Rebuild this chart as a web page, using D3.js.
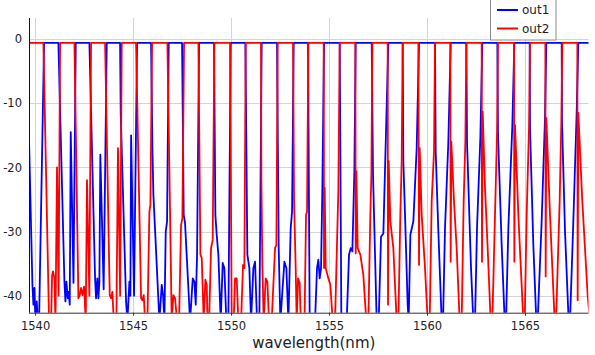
<!DOCTYPE html>
<html><head><meta charset="utf-8">
<script src="https://cdn.jsdelivr.net/npm/d3@7"></script>
<style>html,body{margin:0;padding:0;background:#fff}svg{display:block}</style>
</head><body>
<svg id="c" width="595" height="355"></svg>
<script>
const xTicks = [1540, 1545, 1550, 1555, 1560, 1565];
const yTicks = [0, -10, -20, -30, -40];
const seriesNames = ["out1", "out2"];
const seriesColors = ["#0000ff", "#ff0000"];

// out1 (blue): [wavelength nm, dB]
const out1 = [
[1539.58,-0.6],[1539.69,-15.5],[1539.864,-38.3],[1539.915,-41.4],[1539.966,-38.8],[1540.017,-44],[1540.085,-40.9],[1540.136,-44],[1540.204,-44],[1540.459,-0.6],
[1541.191,-0.6],[1541.497,-37.8],[1541.548,-40.9],[1541.599,-37.8],[1541.667,-40.4],[1541.718,-39.4],[1541.769,-41.4],[1541.82,-14.5],[1541.96,-38],[1542.075,-0.6],
[1542.772,-0.6],[1543.061,-37.3],[1543.112,-40.4],[1543.180,-37.3],[1543.231,-40.4],[1543.282,-37.8],[1543.33,-18],[1543.50,-39],[1543.657,-0.6],
[1544.337,-0.6],[1544.371,-11.8],[1544.643,-40.9],[1544.711,-44],[1544.813,-37.8],[1544.864,-40],[1544.90,-15],[1545.05,-40],[1545.204,-0.6],
[1545.919,-0.6],[1545.987,-17],[1546.038,-24.3],[1546.344,-44],[1546.463,-38.3],[1546.531,-39.9],[1546.599,-44],[1546.667,-30],[1546.735,-28.4],[1546.820,-0.6],
[1547.500,-0.6],[1547.585,-27.4],[1547.653,-28.7],[1547.909,-44],[1548.045,-37.3],[1548.130,-37.8],[1548.198,-41.4],[1548.266,-33.6],[1548.368,-0.6],
[1549.132,-0.6],[1549.200,-27.4],[1549.268,-30.5],[1549.353,-33.6],[1549.472,-44],[1549.574,-34.9],[1549.659,-35.7],[1549.761,-44],[1549.863,-44],[1549.983,-0.6],
[1550.731,-0.6],[1550.833,-33.6],[1550.935,-35.7],[1551.020,-44],[1551.139,-35.7],[1551.224,-34.7],[1551.326,-44],[1551.445,-44],[1551.564,-0.6],
[1552.346,-0.6],[1552.431,-32.6],[1552.517,-44],[1552.721,-34.7],[1552.823,-35.7],[1552.925,-44],[1553.044,-29.5],[1553.112,-26.9],[1553.197,-0.6],
[1553.928,-0.6],[1554.013,-44],[1554.285,-44],[1554.387,-35.7],[1554.455,-34.4],[1554.523,-37.3],[1554.592,-35.7],[1554.660,-23.2],[1554.745,-0.6],
[1555.544,-0.6],[1555.629,-44],[1555.901,-44],[1556.020,-33.6],[1556.105,-32.6],[1556.190,-33.1],[1556.292,-20.6],[1556.360,-0.6],
[1557.177,-0.6],[1557.245,-21.2],[1557.432,-44],[1557.534,-44],[1557.653,-30.8],[1557.772,-30.3],[1557.874,-18.3],[1558.027,-0.6],
[1558.758,-0.6],[1558.792,-19.1],[1558.877,-27.4],[1559.013,-41.4],[1559.064,-44],[1559.150,-30.5],[1559.303,-28.4],[1559.473,-17],[1559.592,-0.6],
[1560.408,-0.6],[1560.442,-17.5],[1560.578,-30],[1560.748,-44],[1560.816,-44],[1560.918,-29.5],[1561.088,-16],[1561.208,-0.6],
[1562.007,-0.6],[1562.041,-16],[1562.245,-35.7],[1562.364,-44],[1562.449,-44],[1562.551,-29.5],[1562.721,-15.4],[1562.823,-0.6],
[1563.588,-0.6],[1563.622,-14.9],[1563.810,-32.1],[1563.963,-44],[1564.031,-44],[1564.150,-29.5],[1564.354,-13.4],[1564.456,-0.6],
[1565.238,-0.6],[1565.255,-13.9],[1565.425,-32.1],[1565.578,-44],[1565.646,-44],[1565.850,-28.4],[1566.020,-12.3],[1566.088,-0.6],
[1566.871,-0.6],[1566.888,-12.8],[1567.041,-30],[1567.228,-44],[1567.296,-44],[1567.466,-28.4],[1567.636,-11.5],[1567.721,-0.6],
[1568.32,-0.6]
];

// out2 (red): [wavelength nm, dB]
const out2 = [
[1539.60,-0.6],
[1540.425,-0.6],[1540.714,-44],[1540.817,-44],[1540.868,-36.8],[1540.919,-36.2],[1540.987,-37.3],[1541.04,-44],[1541.12,-20],[1541.20,-40],[1541.276,-0.6],
[1542.007,-0.6],[1542.211,-40.4],[1542.279,-39.9],[1542.347,-38.8],[1542.415,-39.9],[1542.500,-38.6],[1542.585,-44],[1542.65,-22],[1542.77,-40],[1542.857,-0.6],
[1543.572,-0.6],[1543.810,-39.9],[1543.878,-40.4],[1543.946,-39.4],[1544.014,-44],[1544.15,-44],[1544.23,-17],[1544.34,-40],[1544.422,-0.6],
[1545.153,-0.6],[1545.409,-40.4],[1545.477,-40.7],[1545.545,-39.9],[1545.613,-44],[1545.732,-44],[1545.834,-26.9],[1545.885,-25.8],[1545.970,-0.6],
[1546.752,-0.6],[1546.973,-44],[1547.058,-39.9],[1547.143,-40.4],[1547.245,-44],[1547.347,-44],[1547.449,-29],[1547.517,-27.9],[1547.602,-0.6],
[1548.334,-0.6],[1548.436,-33.6],[1548.504,-34.1],[1548.606,-44],[1548.69,-37.5],[1548.76,-38.3],[1548.80,-44],[1548.88,-44],[1548.979,-32.6],[1549.064,-31.3],[1549.149,-0.6],
[1549.949,-0.6],[1550.034,-44],[1550.136,-44],[1550.204,-37.3],[1550.289,-37.3],[1550.374,-44],[1550.510,-44],[1550.612,-35.2],[1550.680,-35.7],[1550.748,-0.6],
[1551.530,-0.6],[1551.547,-21.7],[1551.598,-35.2],[1551.666,-44],[1551.768,-37.3],[1551.853,-37.8],[1551.938,-44],[1552.074,-44],[1552.245,-32.6],[1552.313,-32.1],[1552.381,-0.6],
[1553.163,-0.6],[1553.215,-25],[1553.30,-36],[1553.35,-44],[1553.42,-37.3],[1553.50,-38],[1553.56,-44],[1553.75,-44],[1553.826,-27.4],[1553.877,-26.9],[1553.945,-0.6],
[1554.728,-0.6],[1554.745,-35.7],[1554.779,-23.2],[1554.830,-35.7],[1554.966,-37.3],[1555.068,-38.3],[1555.187,-44],[1555.306,-44],[1555.476,-23.5],[1555.544,-0.6],
[1556.343,-0.6],[1556.360,-33.4],[1556.394,-20.6],[1556.462,-32.6],[1556.598,-33.6],[1556.751,-36.8],[1556.904,-44],[1557.006,-44],[1557.108,-27.4],[1557.160,-21.2],[1557.211,-0.6],
[1557.993,-0.6],[1558.010,-41.4],[1558.044,-19],[1558.129,-28.4],[1558.282,-32.6],[1558.452,-44],[1558.537,-44],[1558.639,-27.4],[1558.707,-19.1],[1558.758,-0.6],
[1559.558,-0.6],[1559.592,-35.2],[1559.626,-17],[1559.728,-27.4],[1559.898,-35.7],[1560.034,-44],[1560.136,-44],[1560.238,-25.3],[1560.357,-17.5],[1560.408,-0.6],
[1561.190,-0.6],[1561.207,-34.7],[1561.241,-16],[1561.377,-25.3],[1561.513,-32.6],[1561.666,-44],[1561.768,-44],[1561.870,-25.3],[1561.956,-16],[1562.007,-0.6],
[1562.789,-0.6],[1562.806,-34.7],[1562.840,-11.3],[1562.959,-23.2],[1563.095,-32.6],[1563.248,-44],[1563.333,-44],[1563.469,-27.4],[1563.571,-14.9],[1563.622,-0.6],
[1564.439,-0.6],[1564.456,-34.7],[1564.490,-13.4],[1564.660,-27.4],[1564.915,-44],[1564.983,-44],[1565.085,-27.4],[1565.204,-13.9],[1565.255,-0.6],
[1566.038,-0.6],[1566.055,-37],[1566.089,-12.3],[1566.276,-27.4],[1566.514,-44],[1566.582,-44],[1566.769,-25.3],[1566.854,-12.8],[1566.905,-0.6],
[1567.670,-0.6],[1567.687,-40.7],[1567.721,-11.5],[1567.925,-25.3],[1568.197,-39.9],[1568.316,-44]
];

const svg = d3.select("#c");
const L = 29, R = 588.5, T = 18, B = 312.7;
const x = d3.scaleLinear().domain([1539.69, 1568.24]).range([L, R]);
const y = d3.scaleLinear().domain([3.28, -42.65]).range([T, B]);
const font = "'DejaVu Sans', sans-serif";

const g = svg.append("g");
g.selectAll(".vg").data(xTicks).join("line")
  .attr("x1", d => Math.round(x(d)) + 0.5).attr("x2", d => Math.round(x(d)) + 0.5)
  .attr("y1", T).attr("y2", B).attr("stroke", "#d4d4d4").attr("stroke-width", 1);
g.selectAll(".hg").data(yTicks).join("line")
  .attr("y1", d => Math.round(y(d)) + 0.5).attr("y2", d => Math.round(y(d)) + 0.5)
  .attr("x1", L).attr("x2", R).attr("stroke", "#d4d4d4").attr("stroke-width", 1);

svg.append("clipPath").attr("id", "clip").append("rect")
  .attr("x", L).attr("y", T).attr("width", R - L).attr("height", B - T);

const line = d3.line().x(d => x(d[0])).y(d => y(d[1]));
const plot = svg.append("g").attr("clip-path", "url(#clip)");
[out1, out2].forEach((s, i) => {
  plot.append("path").datum(s).attr("d", line)
    .attr("fill", "none").attr("stroke", seriesColors[i])
    .attr("stroke-width", 1.8).attr("stroke-linejoin", "round");
});

const xAxis = d3.axisBottom(x).tickValues(xTicks).tickSize(3).tickFormat(d3.format("d"));
const xa = svg.append("g").attr("transform", `translate(0,${B})`).call(xAxis);
xa.select(".domain").attr("d", `M${L},0.5H${R}`).attr("stroke", "#333");
xa.selectAll(".tick line").attr("stroke", "#333");
xa.selectAll("text").attr("font-family", font).attr("font-size", 11.5).attr("fill", "#222").attr("dy", "0.95em");

svg.append("line").attr("x1", L + 0.5).attr("x2", L + 0.5).attr("y1", T).attr("y2", B)
  .attr("stroke", "#111").attr("stroke-width", 1);
svg.selectAll(".yl").data(yTicks).join("text")
  .attr("x", 22).attr("y", d => y(d)).attr("dy", "0.36em")
  .attr("text-anchor", "end").attr("font-family", font).attr("font-size", 11.5)
  .attr("fill", "#222").text(d => d);

svg.append("text").attr("x", (L + R) / 2 + 5).attr("y", 348)
  .attr("text-anchor", "middle").attr("font-family", font).attr("font-size", 15)
  .attr("fill", "#222").text("wavelength(nm)");

const lg = svg.append("g");
lg.append("rect").attr("x", 490.5).attr("y", -2).attr("width", 65.5).attr("height", 42)
  .attr("fill", "#fff").attr("stroke", "#8a8a8a").attr("stroke-width", 1);
seriesNames.forEach((n, i) => {
  const yy = 10 + i * 18.5;
  lg.append("line").attr("x1", 497).attr("x2", 518).attr("y1", yy).attr("y2", yy)
    .attr("stroke", seriesColors[i]).attr("stroke-width", 2);
  lg.append("text").attr("x", 522).attr("y", yy).attr("dy", "0.36em")
    .attr("font-family", font).attr("font-size", 12).attr("fill", "#222").text(n);
});
</script>
</body></html>
